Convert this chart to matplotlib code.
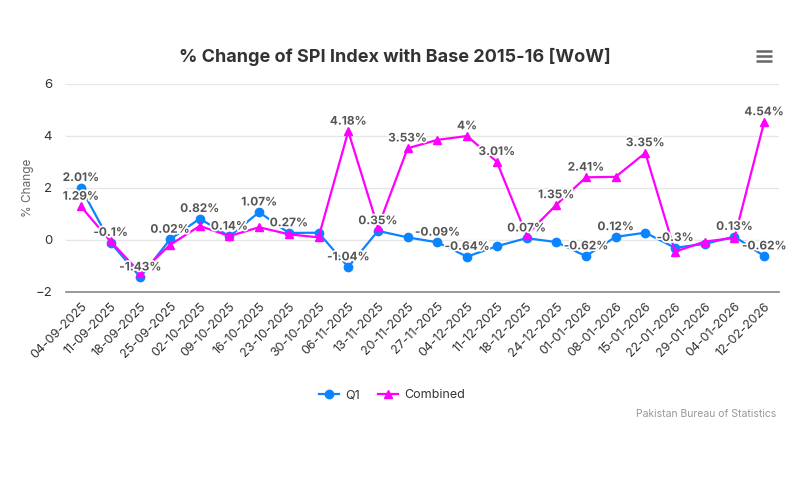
import matplotlib
matplotlib.use("Agg")
import matplotlib.pyplot as plt
import matplotlib.patheffects as pe
from matplotlib.lines import Line2D

plt.rcParams['font.family'] = ['Inter', 'DejaVu Sans']

# week labels (as printed on the chart)
weeks = ['04-09-2025', '11-09-2025', '18-09-2025', '25-09-2025', '02-10-2025',
         '09-10-2025', '16-10-2025', '23-10-2025', '30-10-2025', '06-11-2025',
         '13-11-2025', '20-11-2025', '27-11-2025', '04-12-2025', '11-12-2025',
         '18-12-2025', '24-12-2025', '01-01-2026', '08-01-2026', '15-01-2026',
         '22-01-2026', '29-01-2026', '04-01-2026', '12-02-2026']

# % change week on week
q1 = [2.01, -0.1, -1.43, 0.02, 0.82, 0.14, 1.07, 0.27, 0.28, -1.04, 0.35, 0.1,
      -0.09, -0.64, -0.24, 0.07, -0.08, -0.62, 0.12, 0.28, -0.3, -0.15, 0.13, -0.62]
combined = [1.29, -0.05, -1.27, -0.19, 0.54, 0.15, 0.49, 0.22, 0.1, 4.18, 0.49, 3.53,
            3.85, 4.0, 3.01, 0.19, 1.35, 2.41, 2.43, 3.35, -0.45, -0.06, 0.08, 4.54]

# points whose data label is visible in the original (others hidden by overlap)
q1_labels = [0, 1, 2, 3, 4, 5, 6, 7, 9, 10, 12, 13, 15, 17, 18, 20, 22, 23]
combined_labels = [0, 9, 11, 13, 14, 16, 17, 19, 23]

blue = '#0a84ff'
magenta = '#ff00ff'

fig = plt.figure(figsize=(8, 4.8), dpi=100)
ax = fig.add_axes([0.0825, 0.3917, 0.8913, 0.4333])

x = list(range(len(weeks)))
ax.plot(x, q1, color=blue, lw=1.6, marker='o', ms=6, label='Q1', zorder=3)
ax.plot(x, combined, color=magenta, lw=1.6, marker='^', ms=6, label='Combined', zorder=3)


def fmt(v):
    s = f'{v:.2f}'.rstrip('0').rstrip('.')
    return s + '%'


outline = [pe.withStroke(linewidth=2.5, foreground='white')]
for i in q1_labels:
    ax.annotate(fmt(q1[i]), (i, q1[i]), xytext=(0, 7), textcoords='offset points',
                ha='center', va='center', fontsize=8.5, fontweight='bold',
                color='#555555', path_effects=outline, zorder=5)
for i in combined_labels:
    ax.annotate(fmt(combined[i]), (i, combined[i]), xytext=(0, 7), textcoords='offset points',
                ha='center', va='center', fontsize=8.5, fontweight='bold',
                color='#555555', path_effects=outline, zorder=5)

ax.set_xlim(-0.5, len(weeks) - 0.5)
ax.set_ylim(-2, 6)
ax.set_yticks([-2, 0, 2, 4, 6])
ax.set_xticks(x)
ax.set_xticklabels(weeks, rotation=45, ha='right', rotation_mode='anchor')
ax.tick_params(axis='x', length=0, pad=6, labelsize=9, labelcolor='#333333')
ax.tick_params(axis='y', length=0, pad=10, labelsize=9.5, labelcolor='#333333')
ax.grid(axis='y', color='#e6e6e6', lw=1)
ax.set_axisbelow(True)
for side in ['top', 'right', 'left']:
    ax.spines[side].set_visible(False)
ax.spines['bottom'].set_color('#888888')
ax.spines['bottom'].set_linewidth(1.2)
ax.set_ylabel('% Change', fontsize=8.5, color='#666666', labelpad=1)

fig.text(0.494, 0.881, '% Change of SPI Index with Base 2015-16 [WoW]',
         ha='center', va='center', fontsize=13, fontweight='bold', color='#333333')

# menu icon
for yy in [51, 56, 61]:
    fig.add_artist(Line2D([756 / 800, 772 / 800], [1 - yy / 480, 1 - yy / 480],
                          color='#666666', lw=1.8, solid_capstyle='butt'))

fig.legend(loc='center', bbox_to_anchor=(0.49, 0.177), ncol=2, frameon=False,
           fontsize=9, handlelength=1.6, columnspacing=1.5, handletextpad=0.5,
           labelcolor='#333333')

fig.text(0.97, 0.1375, 'Pakistan Bureau of Statistics', ha='right', va='center',
         fontsize=7.5, color='#999999')

fig.savefig('out.png', dpi=100, facecolor='white')
